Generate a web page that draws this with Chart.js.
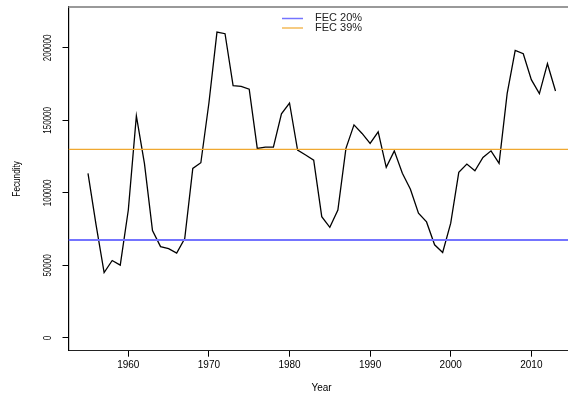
<!DOCTYPE html>
<html>
<head>
<meta charset="utf-8">
<script src="https://cdn.jsdelivr.net/npm/chart.js@4"></script>
<style>
  html, body { margin: 0; padding: 0; background: #fff; overflow: hidden; }
  canvas { display: block; }
</style>
</head>
<body>
<canvas id="chart" width="568" height="394"></canvas>
<script>
const years = [
  1955, 1956, 1957, 1958, 1959, 1960, 1961, 1962, 1963, 1964,
  1965, 1966, 1967, 1968, 1969, 1970, 1971, 1972, 1973, 1974,
  1975, 1976, 1977, 1978, 1979, 1980, 1981, 1982, 1983, 1984,
  1985, 1986, 1987, 1988, 1989, 1990, 1991, 1992, 1993, 1994,
  1995, 1996, 1997, 1998, 1999, 2000, 2001, 2002, 2003, 2004,
  2005, 2006, 2007, 2008, 2009, 2010, 2011, 2012, 2013,
];

const fecundity = [
  113500, 78000, 45100, 53400, 50200, 88200, 153100, 120400, 74000, 63000,
  61600, 58500, 68500, 116900, 120800, 162000, 210900, 209800, 174000, 173500,
  171500, 130700, 131600, 131600, 154500, 162000, 129500, 126100, 122600, 83600,
  76300, 88200, 130700, 146900, 141000, 134100, 142100, 117600, 129000, 113500,
  102500, 86000, 80000, 64200, 58900, 79100, 114200, 119900, 115300, 124500,
  129000, 120400, 168500, 198300, 196000, 178100, 168500, 189100, 170300,
];

const refLabels = ['FEC 20%', 'FEC 39%'];
const refValues = [67600, 130000];
const refColors = ['#7474ff', '#f0a830'];

const xTicks = [1960, 1970, 1980, 1990, 2000, 2010];
const yTicks = [0, 50000, 100000, 150000, 200000];

const X_MIN = 1952.58, X_MAX = 2014.55;
const Y_MIN = -8800, Y_MAX = 228200;
const FONT = "'Liberation Sans', Arial, sans-serif";

const refDatasets = refLabels.map((label, i) => ({
  label,
  data: [{ x: X_MIN, y: refValues[i] }, { x: X_MAX, y: refValues[i] }],
  borderColor: refColors[i],
  borderWidth: i === 0 ? 2 : 1.2,
  pointRadius: 0,
}));

// R-ish decorations: legend, rotated y labels, axis titles, top rule
const decorations = {
  id: 'decorations',
  afterDraw(chart) {
    const { ctx, chartArea, scales } = chart;
    ctx.save();

    // top rule
    ctx.strokeStyle = '#999';
    ctx.lineWidth = 2;
    ctx.beginPath();
    ctx.moveTo(chartArea.left, chartArea.top);
    ctx.lineTo(chartArea.right, chartArea.top);
    ctx.stroke();

    // y tick labels, rotated and a bit narrow like R png output
    ctx.fillStyle = '#000';
    ctx.font = `10px ${FONT}`;
    ctx.textAlign = 'center';
    ctx.textBaseline = 'middle';
    yTicks.forEach(v => {
      const y = scales.y.getPixelForValue(v);
      ctx.save();
      ctx.translate(48.5, y);
      ctx.rotate(-Math.PI / 2);
      ctx.scale(0.8, 1);
      ctx.fillText(String(v), 0, 0);
      ctx.restore();
    });

    // y title
    ctx.save();
    ctx.translate(17.5, (chartArea.top + chartArea.bottom) / 2);
    ctx.rotate(-Math.PI / 2);
    ctx.scale(0.82, 1);
    ctx.fillText('Fecundity', 0, 0);
    ctx.restore();

    // x title
    ctx.fillText('Year', 321.5, 388);

    // legend
    ctx.font = `10px ${FONT}`;
    ctx.textAlign = 'left';
    refLabels.forEach((label, i) => {
      const y = 18.5 + i * 9.5;
      ctx.strokeStyle = refColors[i];
      ctx.lineWidth = i === 0 ? 1.5 : 1.2;
      ctx.beginPath();
      ctx.moveTo(282, y);
      ctx.lineTo(303, y);
      ctx.stroke();
      ctx.save();
      ctx.translate(315, y);
      ctx.scale(1.1, 1);
      ctx.fillStyle = '#222';
      ctx.fillText(label, 0, 0);
      ctx.restore();
    });

    ctx.restore();
  }
};

new Chart(document.getElementById('chart'), {
  type: 'line',
  data: {
    datasets: [
      ...refDatasets,
      {
        label: 'Fecundity',
        data: years.map((yr, i) => ({ x: yr, y: fecundity[i] })),
        borderColor: '#000',
        borderWidth: 1.3,
        pointRadius: 0,
        tension: 0,
      },
    ],
  },
  options: {
    responsive: false,
    animation: false,
    devicePixelRatio: 1,
    layout: { padding: { top: 7, left: 0, right: 0, bottom: 0 } },
    plugins: {
      legend: { display: false },
      tooltip: { enabled: false },
    },
    scales: {
      x: {
        type: 'linear',
        min: X_MIN,
        max: X_MAX,
        afterBuildTicks: s => { s.ticks = xTicks.map(v => ({ value: v })); },
        afterFit: s => { s.height = 43.3; },
        grid: { drawOnChartArea: false, drawTicks: true, tickLength: 6, color: '#000' },
        border: { display: true, color: '#222', width: 1 },
        ticks: {
          color: '#000',
          padding: 3,
          font: { family: FONT, size: 10 },
          callback: v => String(v),
        },
      },
      y: {
        type: 'linear',
        min: Y_MIN,
        max: Y_MAX,
        afterBuildTicks: s => { s.ticks = yTicks.map(v => ({ value: v })); },
        afterFit: s => { s.width = 68.5; },
        grid: { drawOnChartArea: false, drawTicks: true, tickLength: 6, color: '#000' },
        border: { display: true, color: '#000', width: 1.2 },
        ticks: { display: false },
      },
    },
  },
  plugins: [decorations],
});
</script>
</body>
</html>
